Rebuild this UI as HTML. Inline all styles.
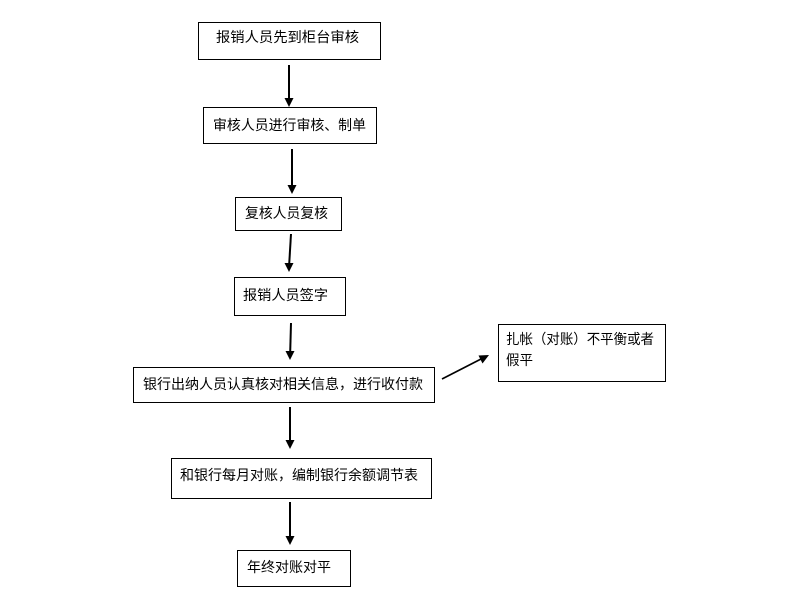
<!DOCTYPE html>
<html><head><meta charset="utf-8"><style>
html,body{margin:0;padding:0;background:#fff;}
svg{display:block;}
text{font-family:"Liberation Sans","Noto Sans CJK SC","WenQuanYi Zen Hei",sans-serif;font-size:14px;fill:#000;dominant-baseline:central;}
</style></head><body>
<svg width="793" height="608" viewBox="0 0 793 608" xmlns="http://www.w3.org/2000/svg">
<g fill="none" stroke="#000" stroke-width="1">
<rect x="198.5" y="22.5" width="182" height="37"/>
<rect x="203.5" y="107.5" width="173" height="36"/>
<rect x="235.5" y="197.5" width="106" height="33"/>
<rect x="234.5" y="277.5" width="111" height="38"/>
<rect x="133.5" y="367.5" width="301" height="35"/>
<rect x="498.5" y="324.5" width="167" height="57"/>
<rect x="171.5" y="458.5" width="260" height="40"/>
<rect x="237.5" y="550.5" width="113" height="36"/>
</g>
<g stroke="#000" stroke-width="2">
<line x1="289" y1="65" x2="289" y2="99"/>
<line x1="292" y1="149" x2="292" y2="186"/>
<line x1="291" y1="234" x2="289.2" y2="264"/>
<line x1="291" y1="323" x2="290.2" y2="352"/>
<line x1="290" y1="407" x2="290" y2="441"/>
<line x1="290" y1="502" x2="290" y2="537"/>
</g>
<line x1="442" y1="379" x2="482" y2="358.5" stroke="#000" stroke-width="1.6"/>
<g fill="#000">
<polygon points="284.5,98 293.5,98 289,107"/>
<polygon points="287.5,185 296.5,185 292,194"/>
<polygon points="284.5,263 293.5,263 289,272"/>
<polygon points="285.5,351 294.5,351 290,360"/>
<polygon points="285.5,440 294.5,440 290,449"/>
<polygon points="285.5,536 294.5,536 290,545"/>
<polygon points="489,355 478.5,355.5 482.5,363.5"/>
</g>
<text x="216" y="37" textLength="143" lengthAdjust="spacingAndGlyphs">报销人员先到柜台审核</text>
<text x="213" y="125" textLength="153" lengthAdjust="spacingAndGlyphs">审核人员进行审核、制单</text>
<text x="245" y="213" textLength="83" lengthAdjust="spacingAndGlyphs">复核人员复核</text>
<text x="243" y="295" textLength="85" lengthAdjust="spacingAndGlyphs">报销人员签字</text>
<text x="143" y="384" textLength="280" lengthAdjust="spacingAndGlyphs">银行出纳人员认真核对相关信息，进行收付款</text>
<text x="506" y="339" textLength="148" lengthAdjust="spacingAndGlyphs">扎帐（对账）不平衡或者</text>
<text x="506" y="360" textLength="27" lengthAdjust="spacingAndGlyphs">假平</text>
<text x="180" y="475" textLength="238" lengthAdjust="spacingAndGlyphs">和银行每月对账，编制银行余额调节表</text>
<text x="247" y="567" textLength="84" lengthAdjust="spacingAndGlyphs">年终对账对平</text>
</svg>
</body></html>
